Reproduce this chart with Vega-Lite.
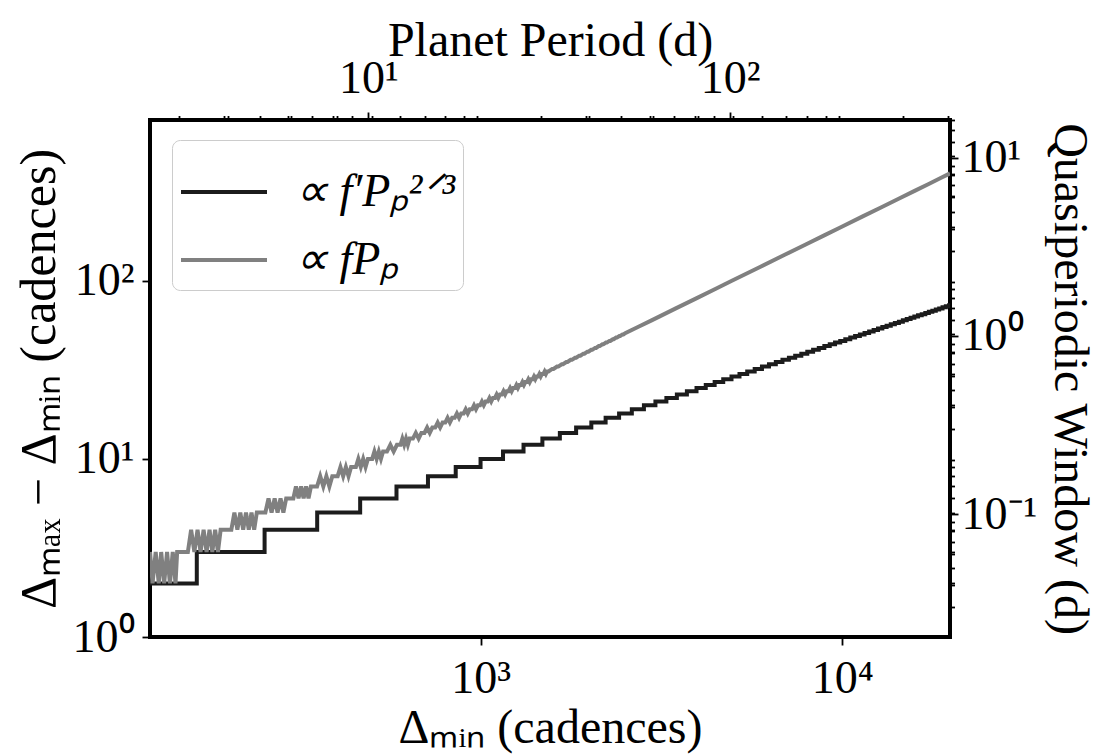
{
  "$schema": "https://vega.github.io/schema/vega-lite/v6.json",
  "width": 800,
  "height": 517,
  "autosize": {"type": "none"},
  "padding": {"left": 150, "top": 120, "right": 148, "bottom": 117},
  "background": "white",
  "config": {
    "view": {"stroke": "black", "strokeWidth": 4},
    "font": "Liberation Serif",
    "axis": {
      "domain": false, "grid": false, "tickColor": "black", "tickWidth": 1.8,
      "labelFont": "Liberation Serif", "labelFontSize": 46, "labelColor": "black",
      "titleFont": "Liberation Serif", "titleFontSize": 48, "titleFontWeight": "normal", "titleColor": "black",
      "labelFlush": false, "labelOverlap": false
    }
  },
  "datasets": {
    "black": [
      {"d":122,"v":2},{"d":164.32,"v":3},{"d":252.98,"v":4},{"d":353.55,"v":5},{"d":464.76,"v":6},{"d":585.66,"v":7},{"d":715.54,"v":8},{"d":853.81,"v":9},{"d":1000,"v":10},
      {"d":1153.69,"v":11},{"d":1314.54,"v":12},{"d":1482.23,"v":13},{"d":1656.5,"v":14},{"d":1837.12,"v":15},{"d":2023.86,"v":16},{"d":2216.53,"v":17},{"d":2414.95,"v":18},{"d":2618.96,"v":19},{"d":2828.43,"v":20},
      {"d":3043.19,"v":21},{"d":3263.13,"v":22},{"d":3488.12,"v":23},{"d":3718.06,"v":24},{"d":3952.85,"v":25},{"d":4192.37,"v":26},{"d":4436.55,"v":27},{"d":4685.3,"v":28},{"d":4938.53,"v":29},{"d":5196.15,"v":30},
      {"d":5458.11,"v":31},{"d":5724.32,"v":32},{"d":5994.75,"v":33},{"d":6269.29,"v":34},{"d":6547.91,"v":35},{"d":6830.53,"v":36},{"d":7117.1,"v":37},{"d":7407.57,"v":38},{"d":7701.88,"v":39},{"d":8000,"v":40},
      {"d":8301.87,"v":41},{"d":8607.44,"v":42},{"d":8916.65,"v":43},{"d":9229.53,"v":44},{"d":9545.94,"v":45},{"d":9865.9,"v":46},{"d":10189.37,"v":47},{"d":10516.27,"v":48},{"d":10846.59,"v":49},{"d":11180.34,"v":50},
      {"d":11517.43,"v":51},{"d":11857.82,"v":52},{"d":12201.5,"v":53},{"d":12548.47,"v":54},{"d":12898.66,"v":55},{"d":13252.01,"v":56},{"d":13608.58,"v":57},{"d":13968.26,"v":58},{"d":14331.04,"v":59},{"d":14696.94,"v":60},
      {"d":15065.9,"v":61},{"d":15437.88,"v":62},{"d":15812.87,"v":63},{"d":16190.85,"v":64},{"d":16571.82,"v":65},{"d":16955.73,"v":66},{"d":17342.55,"v":67},{"d":17732.22,"v":68},{"d":18124.85,"v":69},{"d":18520.25,"v":70},
      {"d":18918.52,"v":71},{"d":19319.62,"v":72},{"d":19723.51,"v":73},{"d":19840,"v":73}
    ],
    "gray": [
      {"d":122,"v":3},{"d":124,"v":2},{"d":126.5,"v":3},{"d":129,"v":2},{"d":131,"v":3},{"d":133.5,"v":2},{"d":136,"v":3},{"d":138.5,"v":2},{"d":141,"v":3},{"d":143.5,"v":2},{"d":145,"v":3},
      {"d":155.25,"v":3},{"d":158.5,"v":4},{"d":161.8,"v":3},{"d":165.1,"v":4},{"d":168.3,"v":3},{"d":171.6,"v":4},{"d":174.9,"v":3},{"d":178.2,"v":4},{"d":181.4,"v":3},{"d":184.7,"v":4},{"d":188,"v":3},{"d":191.25,"v":4},
      {"d":204.75,"v":4},{"d":208.75,"v":5},{"d":212.75,"v":4},{"d":216.75,"v":5},{"d":220.75,"v":4},{"d":224.75,"v":5},{"d":228.75,"v":4},{"d":232.75,"v":5},{"d":236.75,"v":4},{"d":240.75,"v":5},
      {"d":254.25,"v":5},{"d":259.4,"v":6},{"d":264.5,"v":5},{"d":269.7,"v":6},{"d":274.8,"v":5},{"d":280,"v":6},{"d":285.1,"v":5},{"d":290.25,"v":6},
      {"d":303.75,"v":6},{"d":308.9,"v":7},{"d":314,"v":6},{"d":319.2,"v":7},{"d":324.3,"v":6},{"d":329.5,"v":7},{"d":334.6,"v":6},{"d":339.75,"v":7},
      {"d":353.25,"v":7},{"d":360.45,"v":8},{"d":367.65,"v":7},{"d":374.85,"v":8},{"d":382.05,"v":7},{"d":389.25,"v":8},
      {"d":402.75,"v":8},{"d":409.95,"v":9},{"d":417.15,"v":8},{"d":424.35,"v":9},{"d":431.55,"v":8},{"d":438.75,"v":9},
      {"d":452.25,"v":9},{"d":459.45,"v":10},{"d":466.65,"v":9},{"d":473.85,"v":10},{"d":481.05,"v":9},{"d":488.25,"v":10},
      {"d":501.75,"v":10},{"d":508.95,"v":11},{"d":516.15,"v":10},{"d":523.35,"v":11},{"d":530.55,"v":10},{"d":537.75,"v":11},
      {"d":551.25,"v":11},{"d":563.25,"v":12},{"d":575.25,"v":11},{"d":587.25,"v":12},
      {"d":600.75,"v":12},{"d":607.95,"v":13},{"d":615.15,"v":12},{"d":622.35,"v":13},{"d":629.55,"v":12},{"d":636.75,"v":13},
      {"d":650.25,"v":13},{"d":662.25,"v":14},{"d":674.25,"v":13},{"d":686.25,"v":14},
      {"d":699.75,"v":14},{"d":711.75,"v":15},{"d":723.75,"v":14},{"d":735.75,"v":15},
      {"d":749.25,"v":15},{"d":761.25,"v":16},{"d":773.25,"v":15},{"d":785.25,"v":16},
      {"d":798.75,"v":16},{"d":810.75,"v":17},{"d":822.75,"v":16},{"d":834.75,"v":17},
      {"d":848.25,"v":17},{"d":860.25,"v":18},{"d":872.25,"v":17},{"d":884.25,"v":18},
      {"d":897.75,"v":18},{"d":909.75,"v":19},{"d":921.75,"v":18},{"d":933.75,"v":19},
      {"d":947.25,"v":19},{"d":959.25,"v":20},{"d":971.25,"v":19},{"d":983.25,"v":20},
      {"d":996.75,"v":20},{"d":1008.75,"v":21},{"d":1020.75,"v":20},{"d":1032.75,"v":21},
      {"d":1046.25,"v":21},{"d":1058.25,"v":22},{"d":1070.25,"v":21},{"d":1082.25,"v":22},
      {"d":1095.75,"v":22},{"d":1107.75,"v":23},{"d":1119.75,"v":22},{"d":1131.75,"v":23},
      {"d":1145.25,"v":23},{"d":1157.25,"v":24},{"d":1169.25,"v":23},{"d":1181.25,"v":24},
      {"d":1194.75,"v":24},{"d":1206.75,"v":25},{"d":1218.75,"v":24},{"d":1230.75,"v":25},
      {"d":1244.25,"v":25},{"d":1256.25,"v":26},{"d":1268.25,"v":25},{"d":1280.25,"v":26},
      {"d":1293.75,"v":26},{"d":1305.75,"v":27},{"d":1317.75,"v":26},{"d":1329.75,"v":27},
      {"d":1343.25,"v":27},{"d":1355.25,"v":28},{"d":1367.25,"v":27},{"d":1379.25,"v":28},
      {"d":1392.75,"v":28},{"d":1404.75,"v":29},{"d":1416.75,"v":28},{"d":1428.75,"v":29},
      {"d":1442.25,"v":29},{"d":1454.25,"v":30},{"d":1466.25,"v":29},{"d":1478.25,"v":30},
      {"d":1491.75,"v":30},{"d":1503.75,"v":31},{"d":1515.75,"v":30},{"d":1527.75,"v":31},
      {"d":1541.25,"v":31},{"d":1577.25,"v":32},{"d":1590.75,"v":32},{"d":1626.75,"v":33},{"d":1640.25,"v":33},{"d":1676.25,"v":34},
      {"d":1689.75,"v":34},{"d":1725.75,"v":35},{"d":1739.25,"v":35},{"d":1775.25,"v":36},{"d":1788.75,"v":36},{"d":1824.75,"v":37},
      {"d":1838.25,"v":37},{"d":1874.25,"v":38},{"d":1887.75,"v":38},{"d":1923.75,"v":39},{"d":1937.25,"v":39},{"d":1973.25,"v":40},
      {"d":1986.75,"v":40},{"d":2022.75,"v":41},{"d":2036.25,"v":41},{"d":2072.25,"v":42},{"d":2085.75,"v":42},{"d":2121.75,"v":43},
      {"d":2135.25,"v":43},{"d":2171.25,"v":44},{"d":2184.75,"v":44},{"d":2220.75,"v":45},{"d":2234.25,"v":45},{"d":2270.25,"v":46},
      {"d":2283.75,"v":46},{"d":2319.75,"v":47},{"d":2333.25,"v":47},{"d":2369.25,"v":48},{"d":2382.75,"v":48},{"d":2418.75,"v":49},
      {"d":2432.25,"v":49},{"d":2468.25,"v":50},{"d":2481.75,"v":50},{"d":2517.75,"v":51},
      {"d":2722.5,"v":55},{"d":2970,"v":60},{"d":3465,"v":70},{"d":3960,"v":80},{"d":4455,"v":90},{"d":4950,"v":100},
      {"d":5940,"v":120},{"d":6930,"v":140},{"d":7920,"v":160},{"d":8910,"v":180},{"d":9900,"v":200},{"d":11385,"v":230},
      {"d":12870,"v":260},{"d":14355,"v":290},{"d":15840,"v":320},{"d":17325,"v":350},{"d":18810,"v":380},{"d":19840,"v":401}
    ],
    "frame": [
      {"d":122,"v":1,"P":2.49,"W":0.0204},
      {"d":19840,"v":800,"P":404.9,"W":16.33}
    ]
  },
  "layer": [
    {
      "data": {"name": "black"},
      "mark": {"type": "line", "interpolate": "step-after", "strokeWidth": 4, "clip": true},
      "encoding": {
        "x": {"field": "d", "type": "quantitative", "scale": {"type": "log", "domain": [122, 19840], "nice": false, "zero": false}, "axis": null},
        "y": {"field": "v", "type": "quantitative", "scale": {"type": "log", "domain": [1, 800], "nice": false, "zero": false}, "axis": null},
        "color": {
          "datum": "∝ f′Pₚ²ᐟ³",
          "scale": {"domain": ["∝ f′Pₚ²ᐟ³", "∝ fPₚ"], "range": ["#1c1c1c", "#808080"]},
          "legend": {
            "orient": "none", "legendX": 22, "legendY": 20, "title": null,
            "symbolType": "stroke", "symbolSize": 7396, "symbolStrokeWidth": 4,
            "labelFont": "Liberation Serif", "labelFontSize": 46, "labelFontStyle": "italic", "labelColor": "black",
            "labelOffset": 26, "labelLimit": 500, "rowPadding": -6,
            "strokeColor": "#cccccc", "fillColor": "white", "cornerRadius": 8, "padding": 7
          }
        }
      }
    },
    {
      "data": {"name": "gray"},
      "mark": {"type": "line", "strokeWidth": 4, "clip": true},
      "encoding": {
        "x": {"field": "d", "type": "quantitative", "scale": {"type": "log", "domain": [122, 19840], "nice": false, "zero": false},
          "axis": {"values": [1000, 10000], "labelExpr": "datum.value == 1000 ? '10³' : '10⁴'", "tickSize": 8, "labelPadding": 11, "title": "Δₘᵢₙ (cadences)", "titlePadding": 3}},
        "y": {"field": "v", "type": "quantitative", "scale": {"type": "log", "domain": [1, 800], "nice": false, "zero": false},
          "axis": {"values": [1, 10, 100], "labelExpr": "datum.value == 1 ? '10⁰' : datum.value == 10 ? '10¹' : '10²'", "tickSize": 8, "labelPadding": 8, "title": "Δₘₐₓ − Δₘᵢₙ (cadences)", "titleFontSize": 50, "titlePadding": 8}},
        "color": {"datum": "∝ fPₚ", "scale": {"domain": ["∝ f′Pₚ²ᐟ³", "∝ fPₚ"], "range": ["#1c1c1c", "#808080"]}}
      }
    },
    {
      "data": {"name": "frame"},
      "mark": {"type": "point", "opacity": 0},
      "encoding": {
        "x": {"field": "d", "type": "quantitative", "scale": {"type": "log", "domain": [122, 19840], "nice": false, "zero": false},
          "axis": {"values": [200, 300, 400, 500, 600, 700, 800, 900, 2000, 3000, 4000, 5000, 6000, 7000, 8000, 9000], "labels": false, "tickSize": 4.5, "title": null}},
        "y": {"field": "v", "type": "quantitative", "scale": {"type": "log", "domain": [1, 800], "nice": false, "zero": false},
          "axis": {"values": [2, 3, 4, 5, 6, 7, 8, 9, 20, 30, 40, 50, 60, 70, 80, 90, 200, 300, 400, 500, 600, 700, 800], "labels": false, "tickSize": 4.5, "title": null}}
      }
    },
    {
      "data": {"name": "frame"},
      "mark": {"type": "point", "opacity": 0},
      "encoding": {
        "x": {"field": "P", "type": "quantitative", "scale": {"type": "log", "domain": [2.49, 404.9], "nice": false, "zero": false},
          "axis": {"orient": "top", "values": [10, 100], "labelExpr": "datum.value == 10 ? '10¹' : '10²'", "tickSize": 8, "labelPadding": 10, "title": "Planet Period (d)", "titlePadding": -10}},
        "y": {"field": "W", "type": "quantitative", "scale": {"type": "log", "domain": [0.020408, 16.3265], "nice": false, "zero": false},
          "axis": {"orient": "right", "values": [0.1, 1, 10], "labelExpr": "datum.value == 0.1 ? '10⁻¹' : datum.value == 1 ? '10⁰' : '10¹'", "tickSize": 8, "labelPadding": 3, "title": "Quasiperiodic Window (d)", "titlePadding": 8}}
      }
    },
    {
      "data": {"name": "frame"},
      "mark": {"type": "point", "opacity": 0},
      "encoding": {
        "x": {"field": "P", "type": "quantitative", "scale": {"type": "log", "domain": [2.49, 404.9], "nice": false, "zero": false},
          "axis": {"orient": "top", "values": [3, 4, 5, 6, 7, 8, 9, 20, 30, 40, 50, 60, 70, 80, 90, 200, 300, 400], "labels": false, "tickSize": 4.5, "title": null}},
        "y": {"field": "W", "type": "quantitative", "scale": {"type": "log", "domain": [0.020408, 16.3265], "nice": false, "zero": false},
          "axis": {"orient": "right", "values": [0.03, 0.04, 0.05, 0.06, 0.07, 0.08, 0.09, 0.2, 0.3, 0.4, 0.5, 0.6, 0.7, 0.8, 0.9, 2, 3, 4, 5, 6, 7, 8, 9], "labels": false, "tickSize": 4.5, "title": null}}
      }
    }
  ],
  "resolve": {"scale": {"x": "independent", "y": "independent"}, "axis": {"x": "independent", "y": "independent"}}
}
